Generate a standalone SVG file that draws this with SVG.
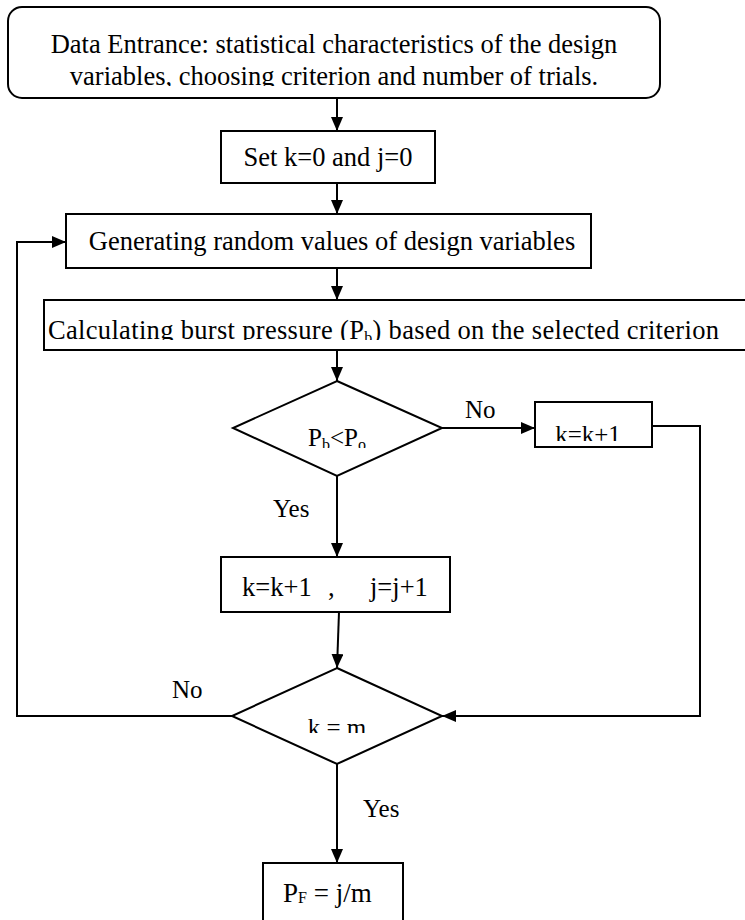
<svg xmlns="http://www.w3.org/2000/svg" width="745" height="920" viewBox="0 0 745 920">
<style>
.box{fill:#fff;stroke:#000;stroke-width:2}
.ln{fill:none;stroke:#000;stroke-width:2}
.t{font-family:"Liberation Serif","Times New Roman",serif;font-size:25px;fill:#000}
.b{font-size:26.5px}
.sub{font-size:16px}
</style>
<defs>
<marker id="ah" viewBox="0 0 14 12" refX="14" refY="6" markerWidth="14" markerHeight="12" markerUnits="userSpaceOnUse" orient="auto">
<path d="M0,0 L14,6 L0,12 z" fill="#000"/>
</marker>
<clipPath id="c0"><rect x="0" y="0" width="745" height="86"/></clipPath>
<clipPath id="c4"><rect x="0" y="300" width="745" height="40"/></clipPath>
<clipPath id="c5"><rect x="0" y="400" width="745" height="48"/></clipPath>
<clipPath id="c6"><rect x="530" y="400" width="130" height="41"/></clipPath>
<clipPath id="c9"><rect x="0" y="700" width="745" height="33"/></clipPath>
</defs>
<g id="connectors">
<line class="ln" x1="337" y1="98" x2="337" y2="131" marker-end="url(#ah)"/>
<line class="ln" x1="337" y1="183" x2="337" y2="214" marker-end="url(#ah)"/>
<line class="ln" x1="337" y1="268" x2="337" y2="300" marker-end="url(#ah)"/>
<line class="ln" x1="337" y1="350" x2="337" y2="381" marker-end="url(#ah)"/>
<line class="ln" x1="442" y1="428" x2="535" y2="428" marker-end="url(#ah)"/>
<line class="ln" x1="337" y1="476" x2="337" y2="557" marker-end="url(#ah)"/>
<line class="ln" x1="339" y1="612" x2="337" y2="668" marker-end="url(#ah)"/>
<polyline class="ln" points="652,426 700,426 700,716 442,716" marker-end="url(#ah)"/>
<polyline class="ln" points="232,716 17,716 17,242 66,242" marker-end="url(#ah)"/>
<line class="ln" x1="337" y1="764" x2="337" y2="863" marker-end="url(#ah)"/>
<text class="t" x="465" y="418">No</text>
<text class="t" x="273" y="517">Yes</text>
<text class="t" x="172" y="698">No</text>
<text class="t" x="363" y="817">Yes</text>
</g>
<g id="n0">
<rect class="box" x="8" y="7" width="652" height="91" rx="14"/>
<g clip-path="url(#c0)">
<text class="t b" x="334" y="53" text-anchor="middle">Data Entrance: statistical characteristics of the design</text>
<text class="t b" x="334" y="85" text-anchor="middle">variables, choosing criterion and number of trials.</text>
</g>
</g>
<g id="n1">
<rect class="box" x="221" y="131" width="214" height="52"/>
<text class="t b" x="328" y="166" text-anchor="middle">Set k=0 and j=0</text>
</g>
<g id="n2">
<rect class="box" x="66" y="214" width="525" height="54"/>
<text class="t b" x="332" y="250" text-anchor="middle">Generating random values of design variables</text>
</g>
<g id="n3">
<rect class="box" x="44" y="300" width="720" height="50"/>
<g clip-path="url(#c4)">
<text class="t b" x="48" y="339" textLength="671">Calculating burst pressure (P<tspan class="sub" dy="4">b</tspan><tspan dy="-4">) based on the selected criterion</tspan></text>
</g>
</g>
<g id="n4">
<polygon class="box" points="337,381 442,428 337,476 233,428"/>
<g clip-path="url(#c5)">
<text class="t" x="337" y="446" text-anchor="middle">P<tspan class="sub" dy="4">b</tspan><tspan dy="-4">&lt;P</tspan><tspan class="sub" dy="4">o</tspan></text>
</g>
</g>
<g id="n5">
<rect class="box" x="535" y="402" width="117" height="45"/>
<g clip-path="url(#c6)">
<text class="t" x="588" y="443" text-anchor="middle">k=k+1</text>
</g>
</g>
<g id="n6">
<rect class="box" x="221" y="557" width="229" height="55"/>
<text class="t b" x="242" y="596">k=k+1</text>
<text class="t b" x="328" y="596">,</text>
<text class="t b" x="370" y="596">j=j+1</text>
</g>
<g id="n7">
<polygon class="box" points="337,668 442,716 337,764 232,716"/>
<g clip-path="url(#c9)">
<text class="t" x="337" y="736" text-anchor="middle">k = m</text>
</g>
</g>
<g id="n8">
<rect class="box" x="263" y="863" width="140" height="60"/>
<text class="t" x="283" y="902" style="font-size:27px">P<tspan class="sub" dy="1">F</tspan><tspan dy="-1"> = j/m</tspan></text>
</g>
</svg>
